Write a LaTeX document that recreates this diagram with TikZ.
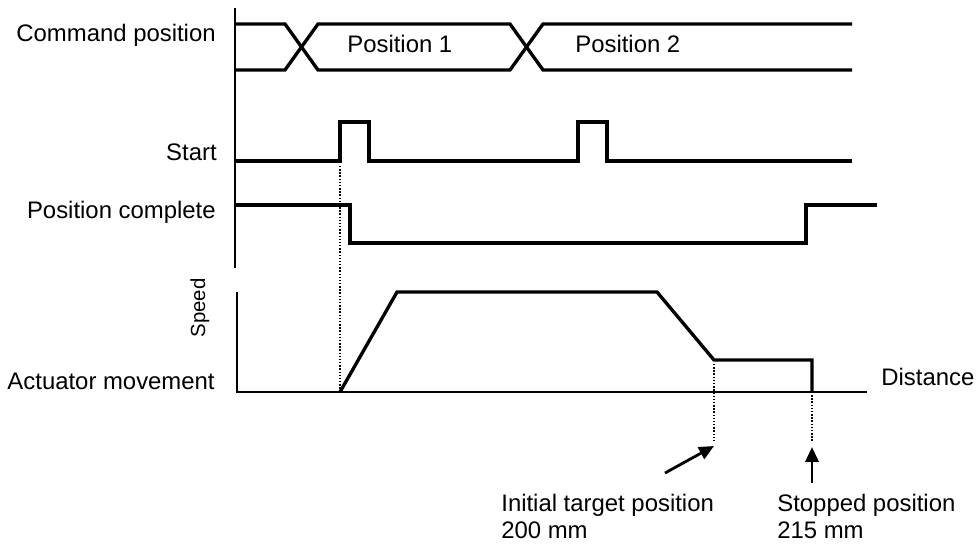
\documentclass[tikz,border=0pt]{standalone}
\usepackage{fontspec}
\setmainfont{Liberation Sans}
\usetikzlibrary{arrows.meta}

\begin{document}
\begin{tikzpicture}[
  x={(0.02cm,0cm)},
  y={(0cm,-0.02cm)},
  font=\fontsize{13.6}{16}\selectfont,
  >={Triangle[length=8.5pt,width=7.5pt]},
  axisln/.style={line width=1.1pt},
  sigline/.style={line width=1.9pt, line join=miter},
  guide/.style={densely dotted, line width=0.8pt},
  pointer/.style={->, line width=1.6pt},
  rowlabel/.style={anchor=base east, inner sep=0pt},
  tlabel/.style={anchor=base west, inner sep=0pt}
]
\useasboundingbox (0,0) rectangle (976,546);

% signal rows
\node[rowlabel] (cmdlbl) at (216,42) {Command position};
\node[rowlabel] (startlbl) at (217,161) {Start};
\node[rowlabel] (donelbl) at (216,219) {Position complete};
\draw[axisln] (235,8) -- (235,268);

\draw[sigline] (235,24) -- (285,24) -- (318,70) -- (510,70) -- (543,24) -- (852,24);
\draw[sigline] (235,70) -- (285,70) -- (318,24) -- (510,24) -- (543,70) -- (852,70);
\node[tlabel] (pos1) at (347,53) {Position 1};
\node[tlabel] (pos2) at (575,53) {Position 2};

\draw[sigline] (235,161) -- (340,161) -- (340,122) -- (369,122) -- (369,161)
  -- (578,161) -- (578,122) -- (607,122) -- (607,161) -- (852,161);
\draw[sigline] (235,205) -- (350,205) -- (350,243) -- (806,243) -- (806,205) -- (877,205);

% movement
\node[rowlabel] (actlbl) at (215,390) {Actuator movement};
\node[anchor=base, rotate=90, inner sep=0pt, font=\fontsize{11.6}{14}\selectfont] (speedlbl) at (205,308) {Speed};
\node[tlabel] (distlbl) at (881,386) {Distance};
\draw[axisln] (237,292) -- (237,392) -- (867,392);

\coordinate (accA) at (340,392);
\coordinate (tgt) at (714,360);
\coordinate (stop) at (812,360);
\draw[guide] (340,166) -- (accA);
\draw[sigline] (accA) -- (397,292) -- (657,292) -- (tgt) -- (stop) -- (812,392);

\coordinate (tgtTip) at (714,446);
\coordinate (tgtTail) at (665,473);
\coordinate (stopTip) at (812,447);
\coordinate (stopTail) at (812,483);
\draw[guide] (714,364) -- (714,442);
\draw[guide] (812,392) -- (812,442);
\draw[pointer] (tgtTail) -- (tgtTip);
\draw[pointer] (stopTail) -- (stopTip);

\node[tlabel] (tgtlbl) at (501,511) {Initial target position};
\node[tlabel] (tgtval) at (501,538) {200 mm};
\node[tlabel] (stoplbl) at (777,511) {Stopped position};
\node[tlabel] (stopval) at (777,538) {215 mm};
\end{tikzpicture}
\end{document}
